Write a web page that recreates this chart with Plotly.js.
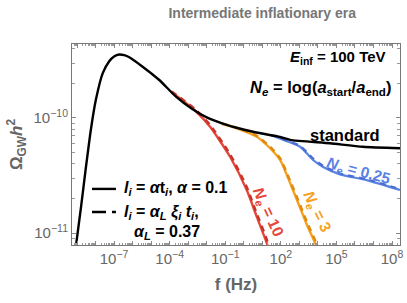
<!DOCTYPE html>
<html>
<head>
<meta charset="utf-8">
<script src="https://cdn.plot.ly/plotly-3.0.1.min.js"></script>
<style>html,body{margin:0;padding:0;background:#fff;}#chart{width:407px;height:303px;}</style>
</head>
<body>
<div id="chart"></div>
<script>
// Values, as log10(f / Hz) and log10(Omega_GW h^2)
const standardLogF   = [-9.08, -8.78, -8.52, -8.25, -7.98, -7.61, -7.25, -7.00, -6.72, -6.45, -6.18, -5.46, -4.56, -3.66, -2.80, -2.00, -0.92, 0.50, 1.96, 2.50, 4.65, 6.43, 8.43];
const standardLogOm  = [-11.14, -10.77, -10.43, -10.10, -9.84, -9.61, -9.505, -9.465, -9.448, -9.454, -9.472, -9.554, -9.67, -9.815, -9.92, -9.995, -10.06, -10.12, -10.165, -10.19, -10.22, -10.25, -10.263];

const ne10LogF  = [-3.90, -3.44, -2.60, -1.82, -0.74, 0.16, 0.70, 1.24, 1.35];
const ne10LogOm = [-9.776, -9.83, -9.94, -10.076, -10.337, -10.626, -10.858, -11.087, -11.15];
const ne10DashLogOm = [-9.770, -9.822, -9.928, -10.060, -10.315, -10.600, -10.830, -11.055, -11.12];

const ne3LogF  = [-1.20, -0.38, 0.70, 1.42, 1.96, 2.50, 3.04, 3.41, 3.94, 4.00];
const ne3LogOm = [-10.05, -10.09, -10.163, -10.263, -10.365, -10.565, -10.78, -10.93, -11.12, -11.15];
const ne3DashLogOm = [-10.048, -10.085, -10.155, -10.250, -10.350, -10.545, -10.755, -10.905, -11.095, -11.125];

const ne025LogF  = [1.50, 2.12, 3.04, 3.74, 4.28, 5.19, 6.63, 8.43];
const ne025LogOm = [-10.15, -10.19, -10.25, -10.365, -10.426, -10.49, -10.54, -10.626];
const ne025DashLogOm = [-10.148, -10.186, -10.243, -10.352, -10.415, -10.482, -10.532, -10.618];

const xDecades = [-9,-8,-7,-6,-5,-4,-3,-2,-1,0,1,2,3,4,5,6,7,8];
const xTickText = ['', '', '10<sup>−7</sup>', '', '', '10<sup>−4</sup>', '', '', '10<sup>−1</sup>', '', '', '10<sup>2</sup>', '', '', '10<sup>5</sup>', '', '', '10<sup>8</sup>'];
const yDecades = [-11, -10];
const yTickText = ['10<sup>−11</sup>', '10<sup>−10</sup>'];

const p10 = v => Math.pow(10, v);
const FONT = '"Liberation Sans", Arial, Helvetica, sans-serif';
const RED = '#E5473A', RED_D = '#C9342A';
const ORANGE = '#F5A01E', ORANGE_D = '#E08A0C';
const BLUE = '#5B83E3', BLUE_D = '#4A6FD0';

function tr(lf, lo, color, width, dash) {
  return {x: lf.map(p10), y: lo.map(p10), mode: 'lines', type: 'scatter',
    line: {color: color, width: width, dash: dash || 'solid', shape: 'spline', smoothing: 0.6},
    showlegend: false, hoverinfo: 'skip'};
}

const data = [
  tr(ne10LogF, ne10LogOm, RED, 2.4),
  tr(ne10LogF, ne10DashLogOm, RED_D, 2.4, '6px,5px'),
  tr(ne3LogF, ne3LogOm, ORANGE, 2.4),
  tr(ne3LogF, ne3DashLogOm, ORANGE_D, 2.4, '6px,5px'),
  tr(ne025LogF, ne025LogOm, BLUE, 2.2),
  tr(ne025LogF, ne025DashLogOm, BLUE_D, 2.2, '6px,5px'),
  tr(standardLogF, standardLogOm, '#000', 2.4),
];

function minorVals(lo, hi) {
  const v = [];
  for (let k = lo; k <= hi; k++) for (let m = 2; m <= 9; m++) v.push(m * Math.pow(10, k));
  return v;
}

const layout = {
  width: 407, height: 303,
  margin: {l: 72, r: 7, t: 44, b: 58},
  paper_bgcolor: '#fff', plot_bgcolor: '#fff',
  font: {family: FONT, color: '#666'},
  title: {text: '<b>Intermediate inflationary era</b>', font: {family: FONT, size: 14, color: '#777'},
          x: 0.58, xanchor: 'center', y: 0.957, yanchor: 'middle', xref: 'paper', yref: 'container'},
  xaxis: {
    type: 'log', range: [-9.27, 8.43], showgrid: false, zeroline: false,
    showline: true, linecolor: '#777', linewidth: 1, mirror: 'allticks',
    ticks: 'inside', ticklen: 4, tickcolor: '#888', tickwidth: 1,
    tickvals: xDecades.map(p10), ticktext: xTickText,
    tickfont: {family: FONT, size: 15, color: '#666'},
    minor: {tickvals: minorVals(-10, 8), ticks: 'inside', ticklen: 2, tickcolor: '#999', showgrid: false},
    title: {text: '<b>f (Hz)</b>', font: {family: FONT, size: 17, color: '#666'}, standoff: 12},
  },
  yaxis: {
    type: 'log', range: [-11.104, -9.357], showgrid: false, zeroline: false,
    showline: true, linecolor: '#777', linewidth: 1, mirror: 'allticks',
    ticks: 'inside', ticklen: 4, tickcolor: '#888', tickwidth: 1,
    tickvals: yDecades.map(p10), ticktext: yTickText,
    tickfont: {family: FONT, size: 15, color: '#666'},
    minor: {tickvals: minorVals(-12, -10), ticks: 'inside', ticklen: 3, tickcolor: '#999', showgrid: false},
    title: {text: '<b>Ω<sub>GW</sub><i>h</i><sup>2</sup></b>', font: {family: FONT, size: 17, color: '#666'}, standoff: 6},
  },
  shapes: [
    {type: 'line', xref: 'paper', yref: 'paper', x0: 0.061, x1: 0.134, y0: 0.279, y1: 0.279, line: {color: '#000', width: 2.4}},
    {type: 'line', xref: 'paper', yref: 'paper', x0: 0.061, x1: 0.134, y0: 0.164, y1: 0.164, line: {color: '#000', width: 2.4, dash: '14px,6px'}},
  ],
  annotations: [
    {xref: 'paper', yref: 'paper', x: 0.963, y: 0.935, xanchor: 'right', yanchor: 'middle', showarrow: false,
     text: '<b><i>E</i><sub>inf</sub> = 100 TeV</b>', font: {family: FONT, size: 15, color: '#000'}},
    {xref: 'paper', yref: 'paper', x: 0.979, y: 0.781, xanchor: 'right', yanchor: 'middle', showarrow: false,
     text: '<b><i>N</i><sub><i>e</i></sub> = log(<i>a</i><sub>start</sub>/<i>a</i><sub>end</sub>)</b>', font: {family: FONT, size: 16.5, color: '#000'}},
    {xref: 'paper', yref: 'paper', x: 0.833, y: 0.547, xanchor: 'center', yanchor: 'middle', showarrow: false,
     text: '<b>standard</b>', font: {family: FONT, size: 16.5, color: '#000'}},
    {xref: 'paper', yref: 'paper', x: 0.874, y: 0.368, xanchor: 'center', yanchor: 'middle', showarrow: false, textangle: 15,
     text: '<b><i>N</i><sub><i>e</i></sub> = 0.25</b>', font: {family: FONT, size: 15.5, color: BLUE}},
    {xref: 'paper', yref: 'paper', x: 0.598, y: 0.164, xanchor: 'center', yanchor: 'middle', showarrow: false, textangle: 65,
     text: '<b><i>N</i><sub><i>e</i></sub> = 10</b>', font: {family: FONT, size: 15.5, color: RED}},
    {xref: 'paper', yref: 'paper', x: 0.748, y: 0.164, xanchor: 'center', yanchor: 'middle', showarrow: false, textangle: 64,
     text: '<b><i>N</i><sub><i>e</i></sub> = 3</b>', font: {family: FONT, size: 15.5, color: ORANGE}},
    {xref: 'paper', yref: 'paper', x: 0.152, y: 0.279, xanchor: 'left', yanchor: 'middle', showarrow: false,
     text: '<b><i>l</i><sub><i>i</i></sub> = <i>α</i>t<sub><i>i</i></sub>, <i>α</i> = 0.1</b>', font: {family: FONT, size: 16, color: '#000'}},
    {xref: 'paper', yref: 'paper', x: 0.152, y: 0.164, xanchor: 'left', yanchor: 'middle', showarrow: false,
     text: '<b><i>l</i><sub><i>i</i></sub> = <i>α</i><sub><i>L</i></sub> <i>ξ</i><sub><i>i</i></sub> <i>t</i><sub><i>i</i></sub>,</b>', font: {family: FONT, size: 16, color: '#000'}},
    {xref: 'paper', yref: 'paper', x: 0.183, y: 0.06, xanchor: 'left', yanchor: 'middle', showarrow: false,
     text: '<b><i>α</i><sub><i>L</i></sub> = 0.37</b>', font: {family: FONT, size: 16, color: '#000'}},
  ],
};

Plotly.newPlot('chart', data, layout, {staticPlot: true, displayModeBar: false});
</script>
</body>
</html>
